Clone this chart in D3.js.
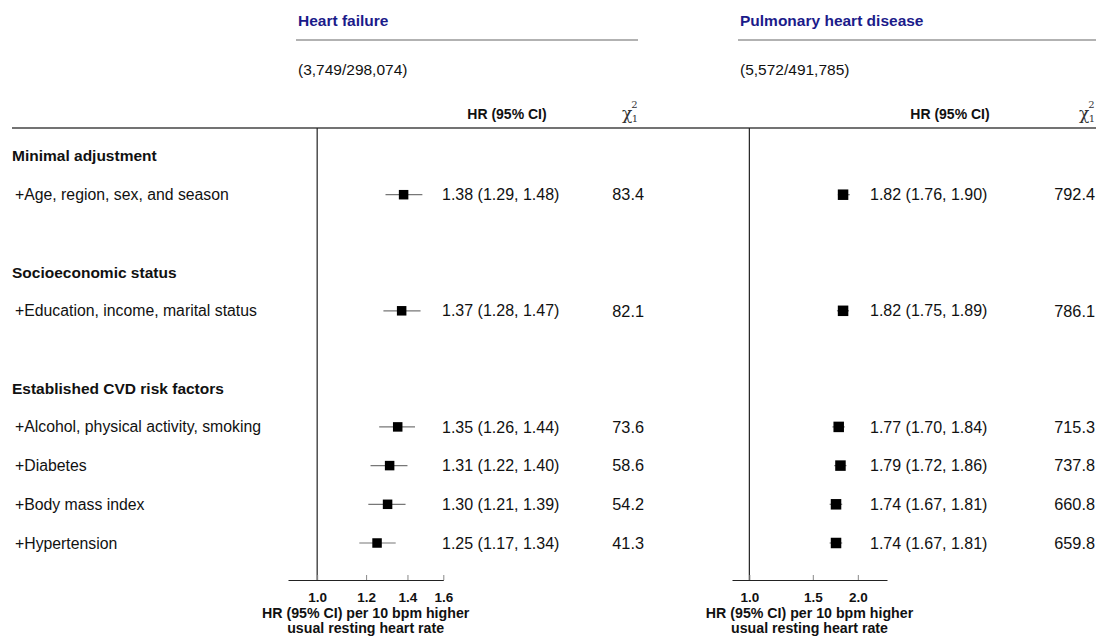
<!DOCTYPE html>
<html><head><meta charset="utf-8">
<script src="https://cdn.jsdelivr.net/npm/d3@7"></script>
<style>body{margin:0;background:#fff}svg{display:block;font-family:"Liberation Sans",Arial,sans-serif}</style>
</head><body><svg id="c" width="1096" height="636"></svg>
<script>
const panelTitles = ["Heart failure", "Pulmonary heart disease"];
const panelCounts = ["(3,749/298,074)", "(5,572/491,785)"];
const sections = ["Minimal adjustment", "Socioeconomic status", "Established CVD risk factors"];
const rowLabels = ["+Age, region, sex, and season", "+Education, income, marital status",
  "+Alcohol, physical activity, smoking", "+Diabetes", "+Body mass index", "+Hypertension"];
const rowSection = [0, 1, 2, 2, 2, 2];
const hfHR = [1.38, 1.37, 1.35, 1.31, 1.30, 1.25];
const hfLo = [1.29, 1.28, 1.26, 1.22, 1.21, 1.17];
const hfHi = [1.48, 1.47, 1.44, 1.40, 1.39, 1.34];
const hfChi = ["83.4", "82.1", "73.6", "58.6", "54.2", "41.3"];
const phHR = [1.82, 1.82, 1.77, 1.79, 1.74, 1.74];
const phLo = [1.76, 1.75, 1.70, 1.72, 1.67, 1.67];
const phHi = [1.90, 1.89, 1.84, 1.86, 1.81, 1.81];
const phChi = ["792.4", "786.1", "715.3", "737.8", "660.8", "659.8"];
const hfTicks = [1.0, 1.2, 1.4, 1.6];
const phTicks = [1.0, 1.5, 2.0];
const axisTitle = ["HR (95% CI) per 10 bpm higher", "usual resting heart rate"];

const svg = d3.select("#c");
const slotOf = [];
const headerSlot = [];
let s = 0;
sections.forEach((sec, si) => {
  if (si > 0) s++;
  headerSlot.push(s); s++;
  rowLabels.forEach((r, ri) => { if (rowSection[ri] === si) { slotOf[ri] = s; s++; } });
});
const y = d3.scalePoint().domain(d3.range(s)).range([156, 543]);

const panels = [
  {x0: 298, lineEnd: 638, axisRange: [288, 443.3], domain: [0.897, 1.6], ticks: hfTicks, hr: hfHR, lo: hfLo, hi: hfHi, chi: hfChi, hrText: 442, hrHead: 507, chiX: 644, chiHead: 630, size: 9.5},
  {x0: 740, lineEnd: 1096, axisRange: [732, 887], domain: [0.895, 2.41], ticks: phTicks, hr: phHR, lo: phLo, hi: phHi, chi: phChi, hrText: 870, hrHead: 950, chiX: 1095, chiHead: 1087, size: 10.5}
];

svg.append("line").attr("x1", 12).attr("x2", 1096).attr("y1", 128).attr("y2", 128)
  .attr("stroke", "#444").attr("stroke-width", 1.3);

sections.forEach((sec, si) => {
  svg.append("text").attr("x", 12).attr("y", y(headerSlot[si])).attr("dy", "0.35em")
    .attr("font-size", 15.5).attr("font-weight", "bold").attr("fill", "#111").text(sec);
});
rowLabels.forEach((r, ri) => {
  svg.append("text").attr("x", 15).attr("y", y(slotOf[ri])).attr("dy", "0.35em")
    .attr("font-size", 15.8).attr("fill", "#111").text(r);
});

const fmt = d3.format(".2f");
panels.forEach((p, pi) => {
  const g = svg.append("g");
  g.append("text").attr("x", p.x0).attr("y", 26).attr("font-size", 15.5).attr("font-weight", "bold")
    .attr("fill", "#1b1b8a").text(panelTitles[pi]);
  g.append("line").attr("x1", p.x0 - 2).attr("x2", p.lineEnd).attr("y1", 40).attr("y2", 40)
    .attr("stroke", "#666").attr("stroke-width", 1.2);
  g.append("text").attr("x", p.x0).attr("y", 75).attr("font-size", 15.5).attr("fill", "#111").text(panelCounts[pi]);
  g.append("text").attr("x", p.hrHead).attr("y", 119).attr("text-anchor", "middle").attr("font-size", 14)
    .attr("font-weight", "bold").attr("fill", "#111").text("HR (95% CI)");
  const chiT = g.append("text").attr("x", p.chiHead).attr("y", 119).attr("text-anchor", "middle")
    .attr("font-family", "DejaVu Serif, serif").attr("fill", "#333");
  chiT.append("tspan").attr("font-size", 17).text("χ");
  chiT.append("tspan").attr("font-size", 10).attr("dy", -11).attr("dx", -1).text("2");
  chiT.append("tspan").attr("font-size", 10).attr("dy", 14).attr("dx", -6).text("1");

  const x = d3.scaleLog().domain(p.domain).range(p.axisRange);
  g.append("line").attr("x1", x(1)).attr("x2", x(1)).attr("y1", 128).attr("y2", 580)
    .attr("stroke", "#222").attr("stroke-width", 1.2);
  const ax = g.append("g").attr("transform", "translate(0,580)")
    .call(d3.axisBottom(x).tickValues(p.ticks).tickFormat(d3.format(".1f")).tickSizeInner(-5).tickSizeOuter(0).tickPadding(12));
  ax.select(".domain").attr("stroke", "#222").attr("stroke-width", 1.2);
  ax.selectAll(".tick line").attr("stroke", "#888");
  ax.selectAll(".tick text").attr("font-size", 13.5).attr("font-weight", "bold").attr("fill", "#111")
    .attr("font-family", "Liberation Sans, Arial, sans-serif");
  const cx = (p.axisRange[0] + p.axisRange[1]) / 2;
  axisTitle.forEach((t, ti) => {
    g.append("text").attr("x", cx).attr("y", 618 + ti * 14.5).attr("text-anchor", "middle")
      .attr("font-size", 14.2).attr("font-weight", "bold").attr("fill", "#111").text(t);
  });

  p.hr.forEach((h, i) => {
    const yy = y(slotOf[i]);
    g.append("line").attr("x1", x(p.lo[i])).attr("x2", x(p.hi[i])).attr("y1", yy).attr("y2", yy)
      .attr("stroke", "#777").attr("stroke-width", 1.2);
    g.append("rect").attr("x", x(h) - p.size / 2).attr("y", yy - p.size / 2)
      .attr("width", p.size).attr("height", p.size).attr("fill", "#000");
    g.append("text").attr("x", p.hrText).attr("y", yy).attr("dy", "0.35em").attr("font-size", 16)
      .attr("fill", "#111").text(`${fmt(h)} (${fmt(p.lo[i])}, ${fmt(p.hi[i])})`);
    g.append("text").attr("x", p.chiX).attr("y", yy).attr("dy", "0.35em").attr("text-anchor", "end")
      .attr("font-size", 16.3).attr("fill", "#111").text(p.chi[i]);
  });
});
</script></body></html>
